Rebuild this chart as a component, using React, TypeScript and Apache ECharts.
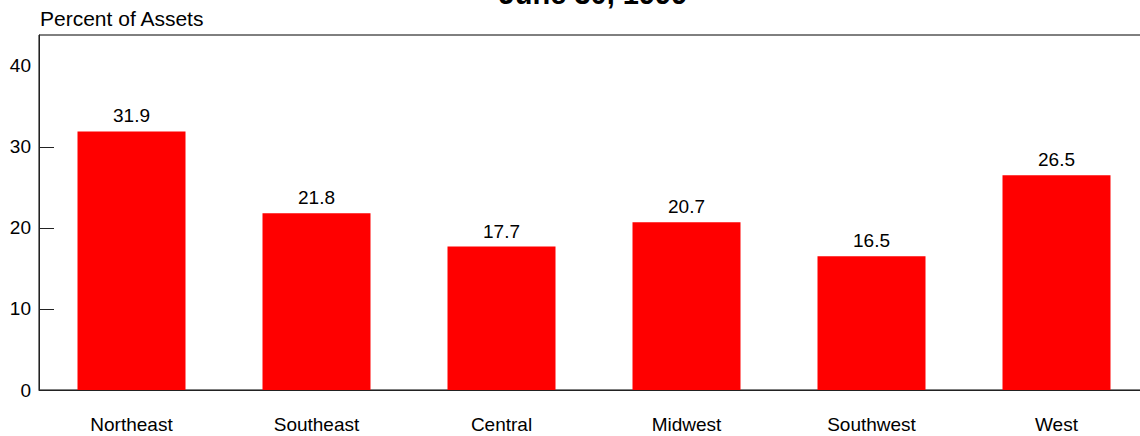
import React, { useEffect, useRef } from "react";
import * as echarts from "echarts";

const categories = ["Northeast", "Southeast", "Central", "Midwest", "Southwest", "West"];
const values = [31.9, 21.8, 17.7, 20.7, 16.5, 26.5];
const tickValues = [10, 20, 30];
const titleText = "June 30, 1999";
const yAxisTitle = "Percent of Assets";

const FONT = "Liberation Sans, Arial, Helvetica, sans-serif";

export default function App() {
  const ref = useRef<HTMLDivElement>(null);
  useEffect(() => {
    document.body.style.margin = "0";
    document.body.style.overflow = "hidden";
    const chart = echarts.init(ref.current!, null, { renderer: "svg" });
    chart.setOption({
      animation: false,
      backgroundColor: "#ffffff",
      textStyle: { fontFamily: FONT },
      grid: {
        left: 39,
        top: 35,
        width: 1110,
        height: 355,
        show: true,
        borderColor: "#000",
        borderWidth: 1,
        backgroundColor: "transparent",
      },
      graphic: [
        {
          type: "text",
          x: 593,
          y: 8,
          style: {
            text: titleText,
            fontFamily: FONT,
            fontSize: 29,
            fontWeight: "bold",
            fill: "#000",
            align: "center",
            verticalAlign: "bottom",
          },
        },
        {
          type: "text",
          x: 40,
          y: 18,
          style: {
            text: yAxisTitle,
            fontFamily: FONT,
            fontSize: 21,
            fill: "#000",
            align: "left",
            verticalAlign: "middle",
          },
        },
      ],
      xAxis: {
        type: "category",
        data: categories,
        axisLine: { show: true, lineStyle: { color: "#222", width: 1 } },
        axisTick: { show: false },
        axisLabel: { color: "#000", fontSize: 19, margin: 25, fontFamily: FONT },
        splitLine: { show: false },
      },
      yAxis: {
        type: "value",
        min: 0,
        max: 43.8,
        interval: 10,
        axisLine: { show: true, lineStyle: { color: "#222", width: 1 } },
        axisTick: {
          show: true,
          inside: true,
          length: 15,
          customValues: tickValues,
          lineStyle: { color: "#222", width: 1 },
        },
        axisLabel: {
          color: "#000",
          fontSize: 19,
          margin: 8,
          fontFamily: FONT,
          showMaxLabel: false,
          formatter: (v: number) => (v > 40 ? "" : String(v)),
        },
        splitLine: { show: false },
      },
      series: [
        {
          type: "bar",
          data: values,
          barWidth: 108,
          itemStyle: { color: "#ff0000" },
          label: {
            show: true,
            position: "top",
            distance: 6,
            color: "#000",
            fontSize: 19,
            fontFamily: FONT,
            formatter: (p: any) => p.value.toFixed(1),
          },
        },
      ],
    });
    return () => chart.dispose();
  }, []);
  return <div ref={ref} style={{ width: 1152, height: 436 }} />;
}
